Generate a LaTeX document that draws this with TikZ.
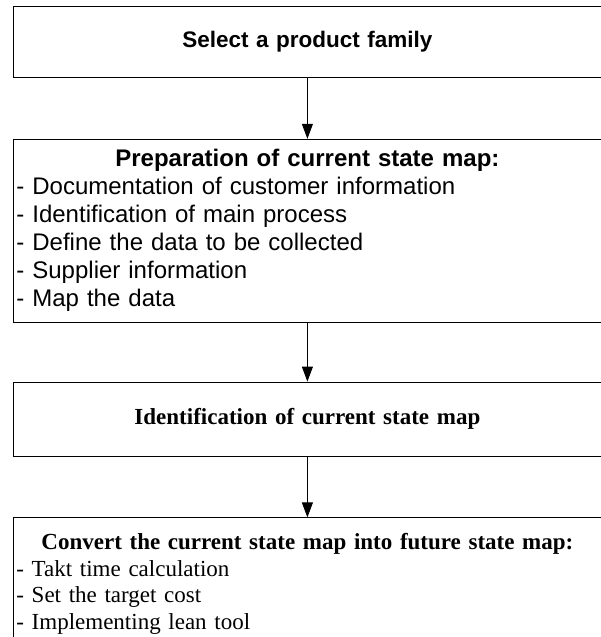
\documentclass[tikz,border=0pt]{standalone}
\usepackage{fontspec}
\setmainfont{Liberation Serif}
\setsansfont{Liberation Sans}
\usepackage{tikz}
\usetikzlibrary{arrows.meta,positioning}
\newcommand{\listItem}[1]{\makebox[582pt][l]{#1}}

\begin{document}
\begin{tikzpicture}[
  stage/.style={draw=black,line width=0.8pt,text width=582pt,inner xsep=3pt,inner ysep=0pt,align=center,font=\fontsize{23}{26.8}\selectfont},
  sansstage/.style={stage,font=\fontsize{24}{28}\selectfont\sffamily},
  flow/.style={-{Triangle[length=15pt,width=11pt]},draw=black,line width=0.8pt}
]
\useasboundingbox (0,0) rectangle (600pt,-637pt);
\node[sansstage,font=\fontsize{22.5}{27}\selectfont\sffamily,minimum height=71pt,anchor=north west] (select) at (13pt,-6pt) {\textbf{Select a product family}};
\node[sansstage,minimum height=183pt,below=61pt of select] (prepare) {\textbf{Preparation of current state map:}\\
  \listItem{- Documentation of customer information}\\
  \listItem{- Identification of main process}\\
  \listItem{- Define the data to be collected}\\
  \listItem{- Supplier information}\\
  \listItem{- Map the data}};
\node[stage,minimum height=74pt,below=59pt of prepare] (identify) {\textbf{Identification of current state map}};
\node[stage,minimum height=132pt,below=61pt of identify] (convert) {\textbf{Convert the current state map into future state map:}\\
  \listItem{- Takt time calculation}\\
  \listItem{- Set the target cost}\\
  \listItem{- Implementing lean tool}};
\draw[flow] (select) -- (prepare);
\draw[flow] (prepare) -- (identify);
\draw[flow] (identify) -- (convert);
\end{tikzpicture}
\end{document}
